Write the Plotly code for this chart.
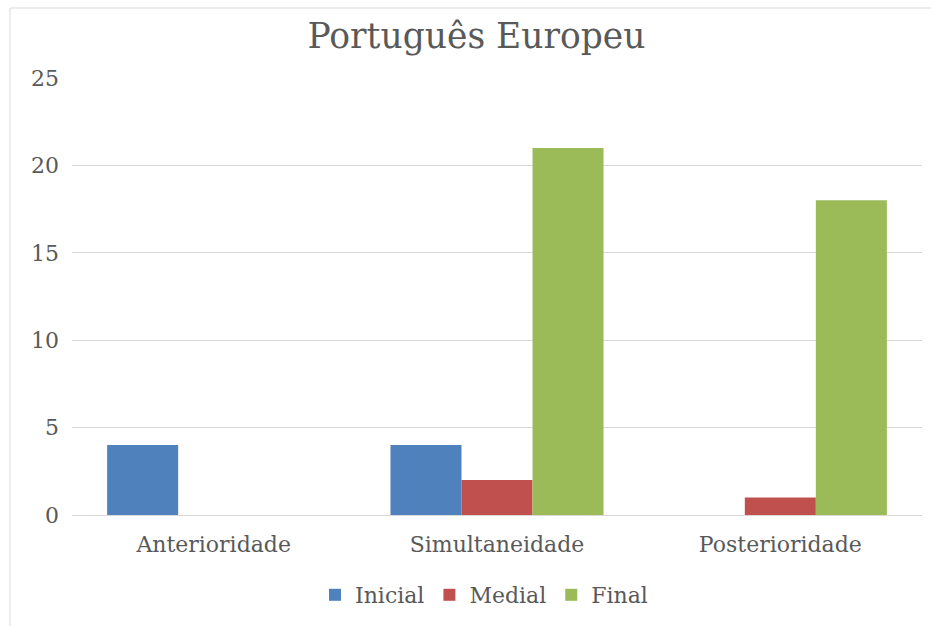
import plotly.graph_objects as go

categories = ["Anterioridade", "Simultaneidade", "Posterioridade"]
inicial = [4, 4, 0]
medial = [0, 2, 1]
final = [0, 21, 18]
series_names = ["Inicial", "Medial", "Final"]
colors = ["#4F81BD", "#C0504D", "#9BBB59"]
y_ticks = [0, 5, 10, 15, 20, 25]

FONT = "DejaVu Serif"
TXT = "#595959"
FS = 22

fig = go.Figure()
for name, vals, col in zip(series_names, [inicial, medial, final], colors):
    fig.add_trace(go.Bar(name=name, x=categories, y=vals, marker=dict(color=col, line=dict(width=0))))

W, H = 931, 626
L, R, T, B = 72, 9, 78, 111
pw, ph = W - L - R, H - T - B

def px_x(p):
    return (p - L) / pw

def px_y(p):
    return (H - B - p) / ph

fig.update_layout(
    width=W, height=H,
    margin=dict(l=L, r=R, t=T, b=B),
    paper_bgcolor="white", plot_bgcolor="white",
    barmode="group", bargap=0.248, bargroupgap=0,
    font=dict(family=FONT, color=TXT, size=FS),
    title=dict(text="Português Europeu", x=476.5 / W, xanchor="center", y=1 - 36 / H, yanchor="middle",
               font=dict(family=FONT, size=34.5, color=TXT)),
    xaxis=dict(showgrid=False, showline=True, linecolor="#d9d9d9", linewidth=1, ticks="",
               ticklabelstandoff=10, tickfont=dict(size=FS, color=TXT)),
    yaxis=dict(range=[0, 25], tickvals=y_ticks, showgrid=True, gridcolor="#d9d9d9", gridwidth=1,
               zeroline=False, showline=False, ticks="", ticklabelstandoff=12,
               tickfont=dict(size=FS, color=TXT)),
    legend=dict(orientation="h", x=px_x(484), xanchor="center", y=px_y(595), yanchor="middle",
                font=dict(size=FS, color=TXT), itemwidth=30, traceorder="normal"),
    shapes=[dict(type="rect", xref="paper", yref="paper",
                 x0=px_x(10), x1=px_x(940), y0=px_y(640), y1=px_y(8),
                 line=dict(color="#d9d9d9", width=1), layer="below")],
    showlegend=True,
)

fig.write_html("out.html", config={"displayModeBar": False},
               post_script="document.body.style.margin='0';document.body.style.overflow='hidden';")
